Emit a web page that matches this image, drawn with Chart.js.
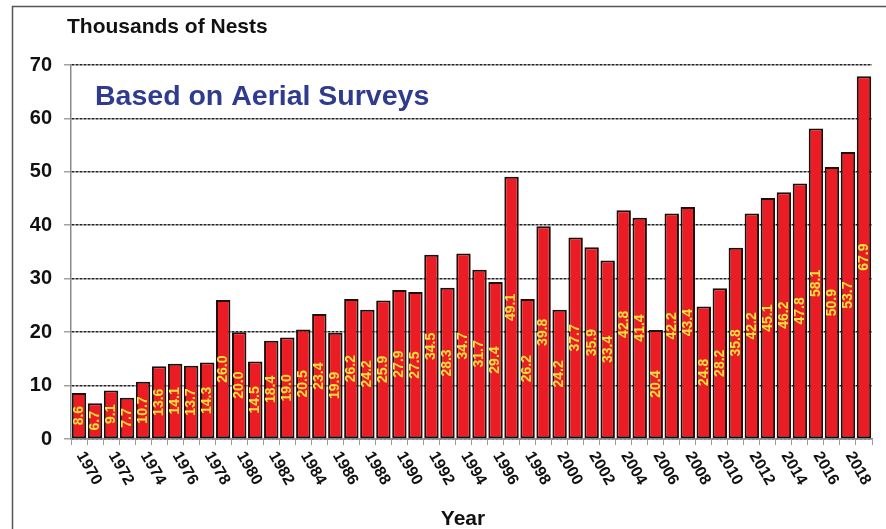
<!DOCTYPE html>
<html><head><meta charset="utf-8">
<script src="https://cdn.jsdelivr.net/npm/chart.js@4.4.1/dist/chart.umd.min.js"></script>
<style>html,body{margin:0;padding:0;background:#fff;overflow:hidden}</style>
</head><body>
<canvas id="c" width="886" height="529"></canvas>
<script>
const years = [1970,1971,1972,1973,1974,1975,1976,1977,1978,1979,
  1980,1981,1982,1983,1984,1985,1986,1987,1988,1989,
  1990,1991,1992,1993,1994,1995,1996,1997,1998,1999,
  2000,2001,2002,2003,2004,2005,2006,2007,2008,2009,
  2010,2011,2012,2013,2014,2015,2016,2017,2018,2019];
const nests = [8.6,6.7,9.1,7.7,10.7,13.6,14.1,13.7,14.3,26.0,
  20.0,14.5,18.4,19.0,20.5,23.4,19.9,26.2,24.2,25.9,
  27.9,27.5,34.5,28.3,34.7,31.7,29.4,49.1,26.2,39.8,
  24.2,37.7,35.9,33.4,42.8,41.4,20.4,42.2,43.4,24.8,
  28.2,35.8,42.2,45.1,46.2,47.8,58.1,50.9,53.7,67.9];
const xTickLabels = ['1970','1972','1974','1976','1978','1980','1982','1984','1986','1988',
  '1990','1992','1994','1996','1998','2000','2002','2004','2006','2008',
  '2010','2012','2014','2016','2018'];
const yTickValues = [0,10,20,30,40,50,60,70];
const yAxisTitle = 'Thousands of Nests';
const xAxisTitle = 'Year';
const subtitle = 'Based on Aerial Surveys';

const FONT = '"Liberation Sans", Arial, Helvetica, sans-serif';

const framePlugin = {
  id: 'frame',
  beforeDraw(chart) {
    const ctx = chart.ctx;
    ctx.save();
    ctx.fillStyle = '#ffffff';
    ctx.fillRect(0, 0, chart.width, chart.height);
    ctx.strokeStyle = '#555555';
    ctx.lineWidth = 1.5;
    ctx.strokeRect(12.5, 6.5, chart.width, chart.height);
    ctx.restore();
  }
};

const textPlugin = {
  id: 'texts',
  afterDraw(chart) {
    const ctx = chart.ctx;
    const xs = chart.scales.x;
    ctx.save();
    ctx.fillStyle = '#111111';
    ctx.font = 'bold 21px ' + FONT;
    ctx.textAlign = 'left';
    ctx.textBaseline = 'alphabetic';
    ctx.fillText(yAxisTitle, 67, 33);
    ctx.textAlign = 'center';
    ctx.fillText(xAxisTitle, 463, 525);
    ctx.fillStyle = '#2e3b8f';
    ctx.font = 'bold 28.5px ' + FONT;
    ctx.textAlign = 'left';
    ctx.fillText(subtitle, 95, 105);
    // rotated x tick labels
    ctx.fillStyle = '#111111';
    ctx.font = 'bold 16px ' + FONT;
    ctx.textAlign = 'left';
    ctx.textBaseline = 'middle';
    xTickLabels.forEach(lbl => {
      const idx = years.indexOf(Number(lbl));
      const x = xs.getPixelForValue(idx);
      ctx.save();
      ctx.translate(x + 1, xs.top + 14);
      ctx.rotate(60 * Math.PI / 180);
      ctx.fillText(lbl, 0, 0);
      ctx.restore();
    });
    ctx.restore();
  }
};

const valuePlugin = {
  id: 'values',
  afterDatasetsDraw(chart) {
    const ctx = chart.ctx;
    const meta = chart.getDatasetMeta(0);
    ctx.save();
    ctx.fillStyle = '#f5e03c';
    ctx.font = 'bold 14px ' + FONT;
    ctx.textAlign = 'center';
    ctx.textBaseline = 'middle';
    meta.data.forEach((bar, i) => {
      const cy = (bar.y + bar.base) / 2;
      ctx.save();
      ctx.translate(bar.x, cy);
      ctx.rotate(-Math.PI / 2);
      ctx.fillText(nests[i].toFixed(1), 0, 0);
      ctx.restore();
    });
    ctx.restore();
  }
};

new Chart(document.getElementById('c'), {
  type: 'bar',
  data: {
    labels: years.map(String),
    datasets: [{
      data: nests,
      backgroundColor: '#ec1c24',
      borderColor: '#1e0f0b',
      borderWidth: 2,
      borderSkipped: false,
      barPercentage: 0.9,
      categoryPercentage: 1.0
    }]
  },
  options: {
    responsive: false,
    animation: false,
    devicePixelRatio: 1,
    layout: { padding: { top: 65, right: 14, bottom: 0, left: 0 } },
    plugins: { legend: { display: false }, tooltip: { enabled: false } },
    scales: {
      x: {
        ticks: { display: false },
        grid: { drawOnChartArea: false, drawTicks: true, tickLength: 6, tickColor: '#9a9a9a', tickWidth: 1, offset: true },
        border: { display: true, color: '#8a8a8a', width: 1.5 },
        afterFit(scale) { scale.height = 90; }
      },
      y: {
        min: 0, max: 70,
        afterBuildTicks(scale) { scale.ticks = yTickValues.map(v => ({ value: v })); },
        ticks: {
          color: '#111111',
          font: { family: FONT, size: 20, weight: 'bold' },
          padding: 12
        },
        grid: { color: '#222222', lineWidth: 1.6, tickLength: 7, tickColor: '#8a8a8a', tickWidth: 1.2, tickBorderDash: [] },
        border: { display: true, color: '#8a8a8a', width: 1.5, dash: [3, 1] },
        afterFit(scale) { scale.width = 71; }
      }
    }
  },
  plugins: [framePlugin, valuePlugin, textPlugin]
});
</script>
</body></html>
